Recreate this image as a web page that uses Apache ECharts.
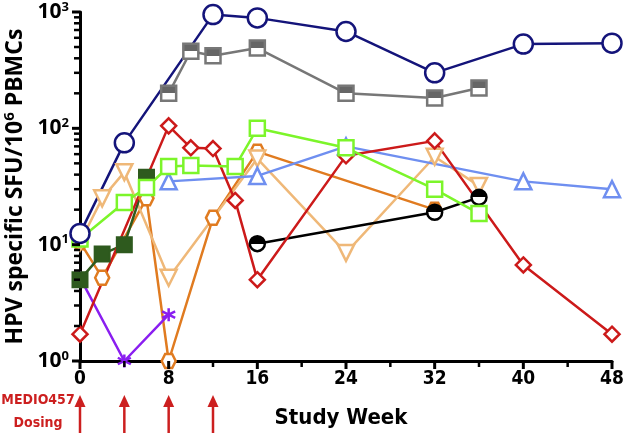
<!DOCTYPE html>
<html>
<head>
<meta charset="utf-8">
<script src="https://cdn.jsdelivr.net/npm/echarts@6/dist/echarts.min.js"></script>
<style>
  html, body { margin: 0; padding: 0; background: #fff; }
  #main { width: 625px; height: 438px; }
</style>
</head>
<body>
<div id="main"></div>
<script>
// study weeks / values (SFU per 10^6 PBMCs)
const navyWeeks = [0, 4, 12, 16, 24, 32, 40, 48];
const navyVals = [12.5, 75, 950, 890, 680, 300, 530, 540];
const grayWeeks = [8, 10, 12, 16, 24, 32, 36];
const grayVals = [200, 460, 420, 490, 200, 182, 222];
const redWeeks = [0, 8, 10, 12, 14, 16, 24, 32, 40, 48];
const redVals = [1.7, 105, 68, 67, 24, 5, 58, 78, 6.7, 1.7];
const blueWeeks = [8, 16, 24, 40, 48];
const blueVals = [35, 39, 70, 35, 30];
const greenWeeks = [0, 4, 6, 8, 10, 14, 16, 24, 32, 36];
const greenVals = [11.2, 23, 31, 47, 48, 47, 100, 68, 30, 18.5];
const darkGreenWeeks = [0, 2, 4, 6];
const darkGreenVals = [5, 8.3, 10, 38];
const purpleWeeks = [0, 4, 8];
const purpleVals = [5.2, 1, 2.5];
const orangeWeeks = [0, 2, 6, 8, 12, 16, 32];
const orangeVals = [10.5, 5.2, 25, 1, 17, 63, 20];
const tanWeeks = [0, 2, 4, 8, 16, 24, 32, 36];
const tanVals = [10.5, 25, 42, 5.2, 55, 8.5, 57, 32];
const blackWeeks = [16, 32, 36];
const blackVals = [10.2, 19, 25.5];

const dosingWeeks = [0, 4, 8, 12];
const xTicks = [0, 8, 16, 24, 32, 40, 48];
const xMinorTicks = [4, 12, 20, 28, 36, 44];
const yMajorTicks = [1, 10, 100, 1000];
const yMinorTicks = [];
[1, 10, 100].forEach(d => { for (let k = 2; k <= 9; k++) yMinorTicks.push(k * d); });

const pairs = (xs, ys) => xs.map((x, i) => [x, ys[i]]);

const halfFill = c => ({
  type: 'linear', x: 0, y: 0, x2: 0, y2: 1,
  colorStops: [
    { offset: 0, color: c }, { offset: 0.5, color: c },
    { offset: 0.5, color: '#fff' }, { offset: 1, color: '#fff' }
  ]
});

function line(name, xs, ys, color, symbol, size, opts) {
  return Object.assign({
    name: name,
    type: 'line',
    data: pairs(xs, ys),
    symbol: symbol,
    symbolSize: size,
    lineStyle: { color: color, width: 2.5 },
    itemStyle: { color: '#fff', borderColor: color, borderWidth: 2.5 },
    z: 3
  }, opts || {});
}

const hexagon = 'path://M-1,0L-0.5,-0.866L0.5,-0.866L1,0L0.5,0.866L-0.5,0.866Z';
const asterisk = 'path://M0,-1L0,1M-0.87,-0.5L0.87,0.5M-0.87,0.5L0.87,-0.5';

// all axis tick marks in one custom item, positioned through the axis scales
const tickMarks = {
  type: 'custom',
  silent: true,
  clip: false,
  z: 20,
  data: [[0, 1]],
  renderItem: (params, api) => {
    const seg = (p, dx, dy, w) => ({
      type: 'line',
      shape: { x1: p[0] + dx, y1: p[1] + dy, x2: p[0], y2: p[1] },
      style: { stroke: '#000', lineWidth: w }
    });
    const children = [];
    yMajorTicks.forEach(v => children.push(seg(api.coord([0, v]), -8, 0, 3)));
    yMinorTicks.forEach(v => children.push(seg(api.coord([0, v]), -6, 0, 2.5)));
    xTicks.forEach(w => children.push(seg(api.coord([w, 1]), 0, 8, 3)));
    xMinorTicks.forEach(w => children.push(seg(api.coord([w, 1]), 0, 6, 2.5)));
    return { type: 'group', children: children };
  }
};

const chart = echarts.init(document.getElementById('main'));

const option = {
  animation: false,
  grid: { left: 80, right: 13, top: 12, bottom: 77, containLabel: false, outerBoundsMode: 'none' },
  textStyle: { fontFamily: 'DejaVu Sans' },
  graphic: [
    {
      type: 'text', x: 38, y: 389,
      style: {
        text: 'MEDIO457\nDosing', fill: '#cc1f1f', align: 'center',
        font: 'bold 14px "DejaVu Sans Condensed", "DejaVu Sans"', lineHeight: 23
      }
    }
  ],
  xAxis: {
    type: 'value',
    min: 0, max: 48, interval: 8,
    splitLine: { show: false },
    axisLine: { show: true, lineStyle: { color: '#000', width: 3 } },
    axisTick: { show: false },
    axisLabel: {
      color: '#000', fontSize: 19, fontWeight: 'bold', margin: 9,
      fontFamily: 'DejaVu Sans Condensed'
    },
    name: 'Study Week',
    nameLocation: 'middle',
    nameGap: 46,
    nameTextStyle: { color: '#000', fontSize: 22, fontWeight: 'bold', fontFamily: 'DejaVu Sans Condensed', padding: [0, 10, 0, 0] }
  },
  yAxis: {
    type: 'log',
    logBase: 10,
    min: 1, max: 1000,
    splitLine: { show: false },
    axisLine: { show: true, lineStyle: { color: '#000', width: 3 } },
    axisTick: { show: false },
    axisLabel: {
      margin: 11,
      formatter: v => '{b|10}{s|' + Math.round(Math.log10(v)) + '}',
      rich: {
        b: { color: '#000', fontSize: 21, fontWeight: 'bold', fontFamily: 'Open Sans' },
        s: { color: '#000', fontSize: 13, fontWeight: 'bold', fontFamily: 'Open Sans', padding: [0, 0, 10, 0] }
      }
    },
    name: '{a|HPV specific SFU/10}{s|6}{a| PBMCs}',
    nameLocation: 'middle',
    nameGap: 51,
    nameTextStyle: {
      rich: {
        a: { color: '#000', fontSize: 23, fontWeight: 'bold', fontFamily: 'Open Sans' },
        s: { color: '#000', fontSize: 15, fontWeight: 'bold', fontFamily: 'Open Sans', padding: [0, 0, 11, 0] }
      }
    }
  },
  series: [
    tickMarks,
    {
      type: 'custom',
      silent: true,
      clip: false,
      data: dosingWeeks.map(w => [w, 1]),
      renderItem: (params, api) => {
        const p = api.coord([api.value(0), 1]);
        const top = p[1] + 34, bottom = p[1] + 72;
        return {
          type: 'group',
          children: [
            { type: 'line', shape: { x1: p[0], y1: top + 6, x2: p[0], y2: bottom },
              style: { stroke: '#cc1f1f', lineWidth: 2.5 } },
            { type: 'polygon', shape: { points: [[p[0], top], [p[0] - 5.5, top + 12], [p[0] + 5.5, top + 12]] },
              style: { fill: '#cc1f1f' } }
          ]
        };
      }
    },
    line('orange', orangeWeeks, orangeVals, '#e07b20', hexagon, 14),
    line('tan', tanWeeks, tanVals, '#efb878', 'triangle', 16, { symbolRotate: 180 }),
    line('black', blackWeeks, blackVals, '#000', 'circle', 15,
      { itemStyle: { color: halfFill('#000'), borderColor: '#000', borderWidth: 2.5 } }),
    line('purple', purpleWeeks, purpleVals, '#8a1ef0', asterisk, 13,
      { itemStyle: { color: '#8a1ef0', borderColor: '#8a1ef0', borderWidth: 2.5 } }),
    line('darkgreen', darkGreenWeeks, darkGreenVals, '#2e5a1e', 'rect', 15,
      { itemStyle: { color: '#2e5a1e', borderColor: '#2e5a1e', borderWidth: 2 } }),
    line('blue', blueWeeks, blueVals, '#6f8ff0', 'triangle', 16),
    line('red', redWeeks, redVals, '#cc1a1a', 'diamond', 15),
    line('green', greenWeeks, greenVals, '#7cf52a', 'rect', 15),
    line('gray', grayWeeks, grayVals, '#777', 'rect', 15,
      { itemStyle: { color: halfFill('#666'), borderColor: '#777', borderWidth: 2.5 } }),
    line('navy', navyWeeks, navyVals, '#14147a', 'circle', 19)
  ]
};

chart.setOption(option);
</script>
</body>
</html>
